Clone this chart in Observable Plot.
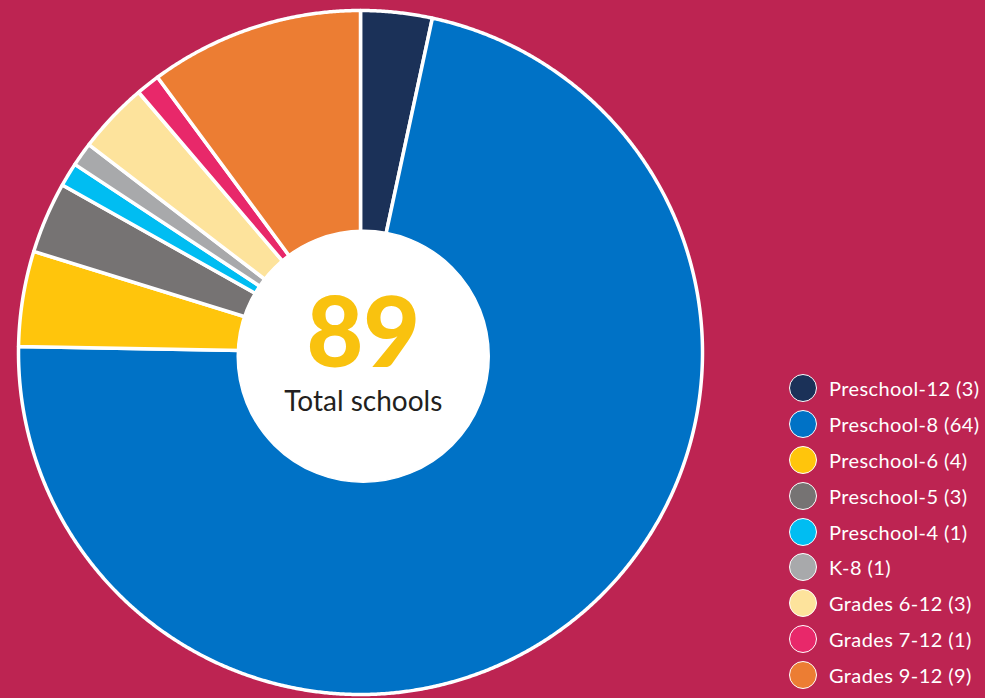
<!DOCTYPE html>
<html>
<head>
<meta charset="utf-8">
<script src="https://cdn.jsdelivr.net/npm/d3@7"></script>
<script src="https://cdn.jsdelivr.net/npm/@observablehq/plot@0.6"></script>
<style>
  html, body { margin: 0; padding: 0; background: #BD2452; }
  #wrap { position: relative; width: 985px; height: 698px; overflow: hidden; background: #BD2452; }
  #legend { position: absolute; left: 789px; top: 370px; font-family: Lato, "Open Sans", sans-serif; color: #fff; font-size: 20px; letter-spacing: 0.4px; }
  .item { display: flex; align-items: center; height: 35.9px; white-space: nowrap; }
  .sw { width: 26px; height: 26px; border-radius: 50%; border: 1.5px solid #fff; box-sizing: content-box; margin-right: 12px; flex: none; }
</style>
</head>
<body>
<div id="wrap"><div id="chart"></div><div id="legend"></div></div>
<script>
const categories = ["Preschool-12", "Preschool-8", "Preschool-6", "Preschool-5", "Preschool-4", "K-8", "Grades 6-12", "Grades 7-12", "Grades 9-12"];
const counts = [3, 64, 4, 3, 1, 1, 3, 1, 9];
const colors = ["#1B3158", "#0072C6", "#FFC50C", "#767373", "#00BDF2", "#A8A9AB", "#FDE39C", "#E8286A", "#EC7D33"];
const totalLabel = "Total schools";

const W = 985, H = 698, cx = 360, cy = 352, R = 342;
const total = d3.sum(counts);

const arcs = d3.pie().sort(null).value(d => d.count)(categories.map((name, i) => ({name, count: counts[i]})));
const pts = [];
for (const a of arcs) {
  const name = a.data.name;
  pts.push({name, x: 0, y: 0});
  const n = Math.max(2, Math.ceil((a.endAngle - a.startAngle) / 0.005));
  for (let k = 0; k <= n; k++) {
    const t = a.startAngle + (a.endAngle - a.startAngle) * k / n;
    pts.push({name, x: Math.sin(t), y: Math.cos(t)});
  }
  pts.push({name, x: 0, y: 0});
}

const chart = Plot.plot({
  width: W, height: H,
  margin: 0,
  style: {background: "transparent"},
  x: {domain: [-cx / R, (W - cx) / R], axis: null},
  y: {domain: [(cy - H) / R, cy / R], axis: null},
  color: {domain: categories, range: colors},
  marks: [
    Plot.line(pts, {x: "x", y: "y", z: "name", fill: "name", stroke: "white", strokeWidth: 3.5, strokeLinejoin: "round", curve: "linear"}),
    Plot.dot([{x: 0.008, y: -0.011}], {x: "x", y: "y", r: 126, fill: "white", stroke: "white"}),
    Plot.text([String(total)], {x: [0.008], y: [-0.011], text: d => d, dy: -21, fill: "#F9C20F", fontSize: 98, fontWeight: 900, fontFamily: "Lato, sans-serif"}),
    Plot.text([totalLabel], {x: [0.008], y: [-0.011], text: d => d, dy: 46, fill: "#231F20", fontSize: 28, fontFamily: "Lato, sans-serif"})
  ]
});
document.getElementById("chart").appendChild(chart);

const legend = document.getElementById("legend");
categories.forEach((c, i) => {
  const it = document.createElement("div");
  it.className = "item";
  const sw = document.createElement("span");
  sw.className = "sw";
  sw.style.background = colors[i];
  const tx = document.createElement("span");
  tx.textContent = `${c} (${counts[i]})`;
  it.appendChild(sw); it.appendChild(tx);
  legend.appendChild(it);
});
</script>
</body>
</html>
